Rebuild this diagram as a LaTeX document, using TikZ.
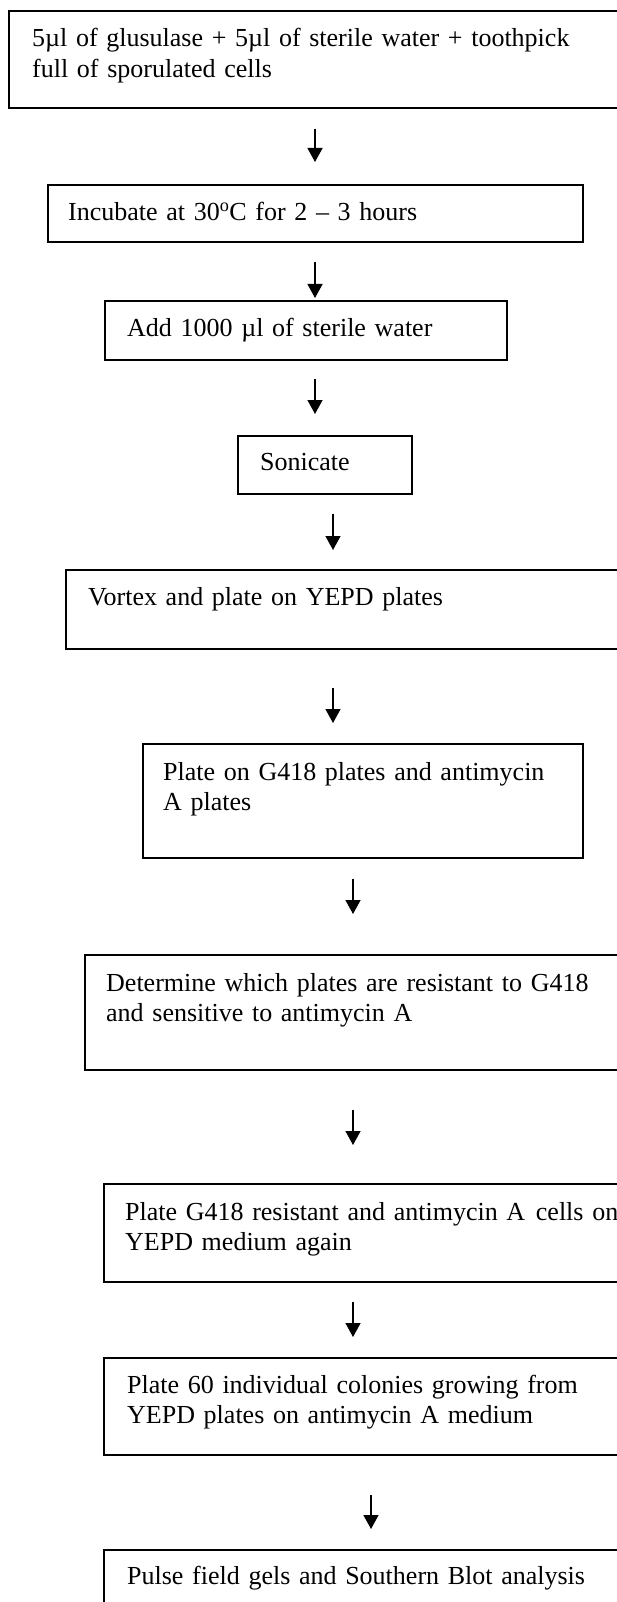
\documentclass[tikz,border=0pt]{standalone}
\usepackage{fontspec}
\setmainfont{Liberation Serif}
\usetikzlibrary{arrows.meta}
\begin{document}
\begin{tikzpicture}[x=1pt,y=-1pt,
  stepbox/.style={draw=black, line width=1.6pt, anchor=north west, inner sep=0pt},
  steptext/.style={anchor=base west, inner sep=0pt, text width=#1, align=left,
    font=\fontsize{26}{30.5}\selectfont},
  flow/.style={-{Triangle[width=15pt,length=14pt]}, line width=1.3pt},
]
\useasboundingbox (0,0) rectangle (617,1602);
\clip (0,0) rectangle (617,1602);

% columns of the connecting arrows
\coordinate (xa) at (315,0);
\coordinate (xb) at (333,0);
\coordinate (xc) at (353,0);
\coordinate (xd) at (371,0);

% step boxes
\node[stepbox, minimum width=632pt, minimum height=97pt]  (b1)  at (8,10)     {};
\node[stepbox, minimum width=535pt, minimum height=57pt]  (b2)  at (47,184)   {};
\node[stepbox, minimum width=402pt, minimum height=59pt]  (b3)  at (104,300)  {};
\node[stepbox, minimum width=174pt, minimum height=58pt]  (b4)  at (237,435)  {};
\node[stepbox, minimum width=575pt, minimum height=79pt]  (b5)  at (65,569)   {};
\node[stepbox, minimum width=440pt, minimum height=114pt] (b6)  at (142,743)  {};
\node[stepbox, minimum width=556pt, minimum height=115pt] (b7)  at (84,954)   {};
\node[stepbox, minimum width=537pt, minimum height=98pt]  (b8)  at (103,1183) {};
\node[stepbox, minimum width=537pt, minimum height=97pt]  (b9)  at (103,1357) {};
\node[stepbox, minimum width=537pt, minimum height=94pt]  (b10) at (103,1549) {};

% step texts
\node[steptext=590pt] (t1) at (32,47)
  {5µl of glusulase + 5µl of sterile water + toothpick\\full of sporulated cells};
\node[steptext=500pt] (t2) at (68,221)
  {Incubate at 30\textsuperscript{o}C for 2 – 3 hours};
\node[steptext=370pt] (t3) at (127,336) {Add 1000 µl of sterile water};
\node[steptext=140pt] (t4) at (260,470) {Sonicate};
\node[steptext=500pt] (t5) at (88,605) {Vortex and plate on YEPD plates};
\node[steptext=410pt] (t6) at (163,780)
  {Plate on G418 plates and antimycin\\A plates};
\node[steptext=505pt] (t7) at (106,991)
  {Determine which plates are resistant to G418\\and sensitive to antimycin A};
\node[steptext=500pt] (t8) at (125,1220)
  {Plate G418 resistant and antimycin A\ \hspace{2pt}cells on\\YEPD medium again};
\node[steptext=480pt] (t9) at (127,1393)
  {Plate 60 individual colonies growing from\\YEPD plates on antimycin A medium};
\node[steptext=480pt] (t10) at (127,1584)
  {Pulse field gels and Southern Blot analysis};

% connecting arrows
\draw[flow, shorten <=20pt, shorten >=22pt] (b1.south -| xa) -- (b2.north -| xa);
\draw[flow, shorten <=19pt, shorten >=2pt]  (b2.south -| xa) -- (b3.north -| xa);
\draw[flow, shorten <=18pt, shorten >=21pt] (b3.south -| xa) -- (b4.north -| xa);
\draw[flow, shorten <=19pt, shorten >=19pt] (b4.south -| xb) -- (b5.north -| xb);
\draw[flow, shorten <=38pt, shorten >=20pt] (b5.south -| xb) -- (b6.north -| xb);
\draw[flow, shorten <=20pt, shorten >=40pt] (b6.south -| xc) -- (b7.north -| xc);
\draw[flow, shorten <=39pt, shorten >=38pt] (b7.south -| xc) -- (b8.north -| xc);
\draw[flow, shorten <=19pt, shorten >=20pt] (b8.south -| xc) -- (b9.north -| xc);
\draw[flow, shorten <=39pt, shorten >=20pt] (b9.south -| xd) -- (b10.north -| xd);
\end{tikzpicture}
\end{document}
